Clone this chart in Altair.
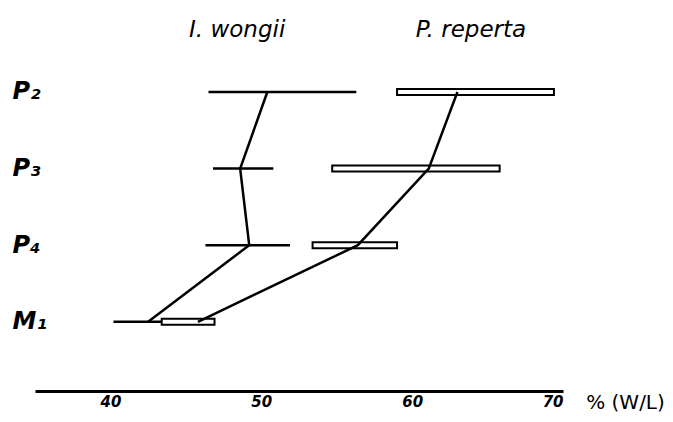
import altair as alt
import pandas as pd

# ---- data ----
rows = ["P₂", "P₃", "P₄", "M₁"]
wongii_lo = [46.5, 46.8, 46.3, 40.2]
wongii_hi = [56.3, 50.8, 51.9, 44.5]
wongii_mean = [50.4, 48.6, 49.2, 42.5]
reperta_lo = [59.0, 54.7, 53.4, 43.4]
reperta_hi = [69.4, 65.8, 59.0, 46.9]
reperta_mean = [63.0, 61.1, 56.4, 45.8]
species = ["I. wongii", "P. reperta"]
species_label_x = [48.4, 63.9]
x_ticks = [40, 50, 60, 70]
x_domain = [35, 70]
header = "hdr"

FONT = "DejaVu Sans"

wong = pd.DataFrame({"row": rows, "lo": wongii_lo, "hi": wongii_hi,
                     "mean": wongii_mean, "order": range(len(rows)),
                     "sp": species[0]})
rep = pd.DataFrame({"row": rows, "lo": reperta_lo, "hi": reperta_hi,
                    "mean": reperta_mean, "order": range(len(rows)),
                    "sp": species[1]})
means = pd.concat([wong, rep])
titles = pd.DataFrame({"sp": species, "x": species_label_x, "row": [header, header]})

xscale = alt.Scale(domain=x_domain, nice=False, zero=False)
yscale = alt.Scale(type="point", domain=[header] + rows, paddingOuter=0.5533, align=0.0964)

xaxis = alt.Axis(values=x_ticks, grid=False, ticks=False, domainColor="black",
                 domainWidth=3, labelFont=FONT, labelFontSize=15, labelFontWeight="bold",
                 labelFontStyle="italic", labelColor="black", labelPadding=3,
                 title="% (W/L)", titleFont=FONT, titleFontSize=20, titleFontWeight="normal",
                 titleColor="black", titleX=590, titleY=11, titleAlign="center",
                 titleBaseline="middle")
yaxis = alt.Axis(values=rows, grid=False, ticks=False, domain=False, labelFont=FONT,
                 labelFontSize=24, labelFontWeight="bold", labelFontStyle="italic",
                 labelColor="black", labelAlign="left", labelPadding=23, title=None)

base_w = alt.Chart(wong)
wong_rules = base_w.mark_rule(color="black", strokeWidth=2.5).encode(
    x=alt.X("lo:Q", scale=xscale, axis=xaxis),
    x2="hi:Q",
    y=alt.Y("row:N", scale=yscale, axis=yaxis),
)
rep_boxes = alt.Chart(rep).mark_bar(size=6, fill="white", stroke="black", strokeWidth=2).encode(
    x=alt.X("lo:Q", scale=xscale),
    x2="hi:Q",
    y=alt.Y("row:N", scale=yscale),
)
mean_lines = alt.Chart(means).mark_line(color="black", strokeWidth=2.5).encode(
    x=alt.X("mean:Q", scale=xscale),
    y=alt.Y("row:N", scale=yscale),
    detail="sp:N",
    order="order:Q",
)
title_text = alt.Chart(titles).mark_text(font=FONT, fontSize=23, fontStyle="italic",
                                         color="black", dy=15).encode(
    x=alt.X("x:Q", scale=xscale),
    y=alt.Y("row:N", scale=yscale),
    text="sp:N",
)

chart = alt.layer(wong_rules, rep_boxes, mean_lines, title_text).properties(
    width=528, height=383,
    padding={"left": 27, "top": 0, "right": 102, "bottom": 23},
    autosize=alt.AutoSizeParams(type="none"),
    background="white",
).configure_view(stroke=None)

chart.save("out.html", embed_options={"renderer": "svg", "actions": False})
